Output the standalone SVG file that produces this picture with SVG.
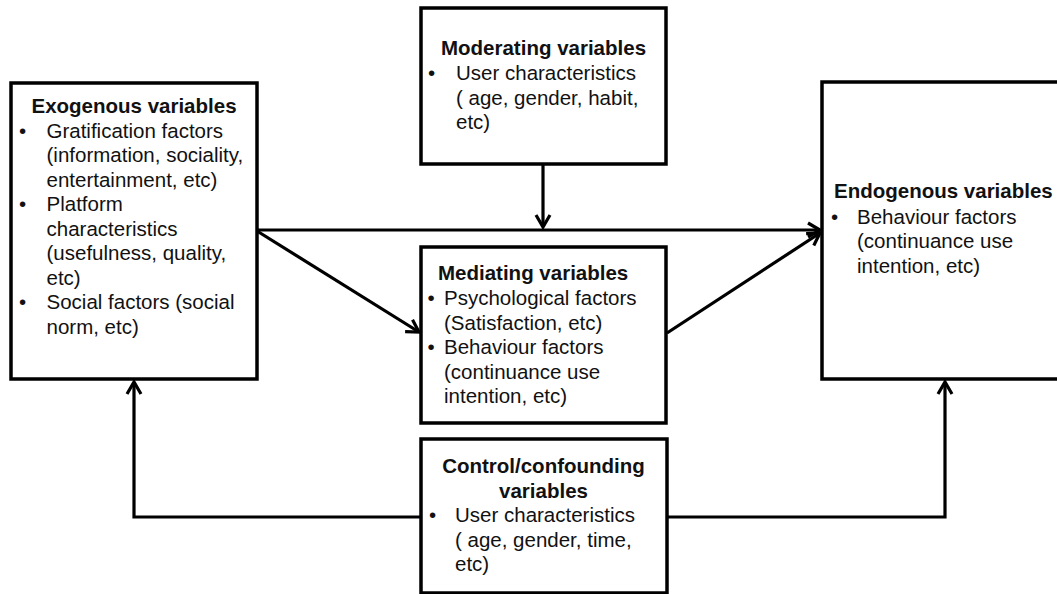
<svg xmlns="http://www.w3.org/2000/svg" width="1057" height="594" viewBox="0 0 1057 594">
<style>
.box{fill:#fff;stroke:#000;stroke-width:3.5}
.t{font-family:"Liberation Sans",Arial,sans-serif;font-size:20.5px;fill:#111}
.b{font-weight:bold}
.c{text-anchor:middle}
.conn path{fill:none;stroke:#000;stroke-width:3.2}
</style>
<defs>
<marker id="arr" markerUnits="userSpaceOnUse" markerWidth="20" markerHeight="20" refX="0" refY="0" viewBox="-15 -10 20 20" orient="auto" overflow="visible">
<path d="M-12,-7 L0,0 L-12,7" fill="none" stroke="#000" stroke-width="3.2" stroke-linejoin="miter"/>
</marker>
</defs>
<rect width="1057" height="594" fill="#fff"/>
<g class="conn">
<path d="M543,164 L543,227" marker-end="url(#arr)"/>
<path d="M257,230 L820,230" marker-end="url(#arr)"/>
<path d="M257,231 L419,332" marker-end="url(#arr)"/>
<path d="M667,333 L820,233" marker-end="url(#arr)"/>
<path d="M421,517 L134,517 L134,382" marker-end="url(#arr)"/>
<path d="M667,517 L945,517 L945,382" marker-end="url(#arr)"/>
</g>
<g id="exogenous">
<rect class="box" x="11" y="83" width="246" height="296"/>
<text class="t b c" x="134" y="113">Exogenous variables</text>
<text class="t" x="19" y="137.5">•</text>
<text class="t" x="46.5" y="137.5">Gratification factors</text>
<text class="t" x="46.5" y="162">(information, sociality,</text>
<text class="t" x="46.5" y="186.5">entertainment, etc)</text>
<text class="t" x="19" y="211">•</text>
<text class="t" x="46.5" y="211">Platform</text>
<text class="t" x="46.5" y="235.5">characteristics</text>
<text class="t" x="46.5" y="260">(usefulness, quality,</text>
<text class="t" x="46.5" y="284.5">etc)</text>
<text class="t" x="19" y="309">•</text>
<text class="t" x="46.5" y="309">Social factors (social</text>
<text class="t" x="46.5" y="333.5">norm, etc)</text>
</g>
<g id="moderating">
<rect class="box" x="421" y="8" width="245" height="156"/>
<text class="t b c" x="543.5" y="55">Moderating variables</text>
<text class="t" x="428" y="80">•</text>
<text class="t" x="456" y="80">User characteristics</text>
<text class="t" x="456" y="104.5">( age, gender, habit,</text>
<text class="t" x="456" y="129">etc)</text>
</g>
<g id="mediating">
<rect class="box" x="421" y="247" width="245" height="176"/>
<text class="t b" x="438" y="280">Mediating variables</text>
<text class="t" x="427.5" y="305">•</text>
<text class="t" x="444" y="305">Psychological factors</text>
<text class="t" x="444" y="329.5">(Satisfaction, etc)</text>
<text class="t" x="427.5" y="354">•</text>
<text class="t" x="444" y="354">Behaviour factors</text>
<text class="t" x="444" y="378.5">(continuance use</text>
<text class="t" x="444" y="403">intention, etc)</text>
</g>
<g id="endogenous">
<rect class="box" x="822" y="82" width="250" height="297"/>
<text class="t b" x="834" y="198">Endogenous variables</text>
<text class="t" x="831" y="223.5">•</text>
<text class="t" x="857" y="223.5">Behaviour factors</text>
<text class="t" x="857" y="248">(continuance use</text>
<text class="t" x="857" y="272.5">intention, etc)</text>
</g>
<g id="control">
<rect class="box" x="421" y="439" width="246" height="154"/>
<text class="t b c" x="543.5" y="473">Control/confounding</text>
<text class="t b c" x="543.5" y="497.5">variables</text>
<text class="t" x="429" y="522">•</text>
<text class="t" x="455" y="522">User characteristics</text>
<text class="t" x="455" y="546.5">( age, gender, time,</text>
<text class="t" x="455" y="571">etc)</text>
</g>
</svg>
